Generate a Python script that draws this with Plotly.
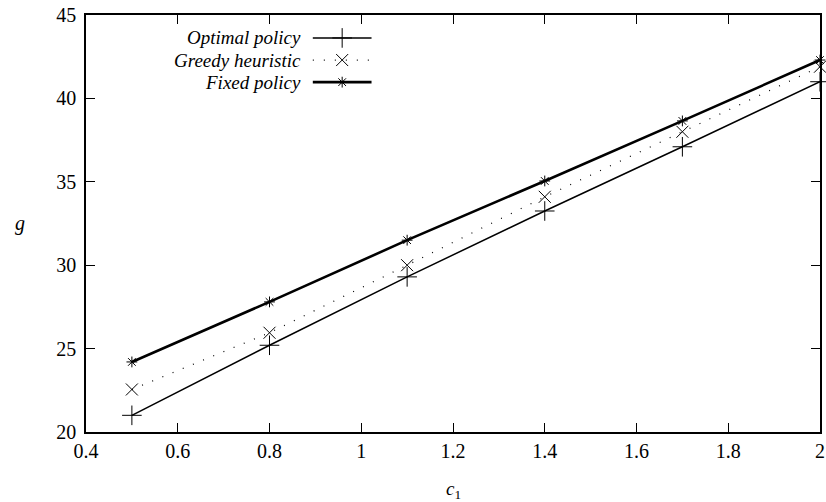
import plotly.graph_objects as go

c1 = [0.5, 0.8, 1.1, 1.4, 1.7, 2.0]
optimal = [21.0, 25.2, 29.3, 33.25, 37.1, 41.0]
greedy = [22.55, 25.95, 30.0, 34.1, 38.0, 41.9]
fixed = [24.2, 27.8, 31.5, 35.05, 38.65, 42.3]
names = ["Optimal policy", "Greedy heuristic", "Fixed policy"]
x_ticks = [0.4, 0.6, 0.8, 1, 1.2, 1.4, 1.6, 1.8, 2]
y_ticks = [20, 25, 30, 35, 40, 45]

FONT = "Liberation Serif, Times New Roman, DejaVu Serif, serif"
styles = [
    dict(line=dict(color="black", width=1.5), symbol="cross-thin-open", size=14),
    dict(line=dict(color="black", width=1.2, dash="1px,10px"), symbol="x-thin-open", size=12),
    dict(line=dict(color="black", width=2.6), symbol="asterisk-open", size=9),
]

fig = go.Figure()
for ys, nm, st in zip([optimal, greedy, fixed], names, styles):
    fig.add_trace(go.Scatter(
        x=c1, y=ys, mode="lines+markers", name=nm, showlegend=False,
        line=st["line"],
        marker=dict(symbol=st["symbol"], size=st["size"], color="black",
                    line=dict(color="black", width=1)),
        cliponaxis=False,
    ))

# manual legend (gnuplot style: text on left, sample on right)
leg_y = [0.945, 0.892, 0.839]
for nm, st, ly in zip(names, styles, leg_y):
    fig.add_trace(go.Scatter(
        x=[0.309, 0.389], y=[ly, ly], mode="lines", xaxis="x2", yaxis="y2",
        line=st["line"], showlegend=False, hoverinfo="skip"))
    fig.add_trace(go.Scatter(
        x=[0.349], y=[ly], mode="markers", xaxis="x2", yaxis="y2",
        marker=dict(symbol=st["symbol"], size=st["size"], color="black",
                    line=dict(color="black", width=1)),
        showlegend=False, hoverinfo="skip"))
    fig.add_annotation(x=0.296, y=ly, xref="x2", yref="y2", text="<i>%s</i>" % nm,
                       showarrow=False, xanchor="right", yanchor="middle",
                       font=dict(family=FONT, size=19, color="black"))

axis_common = dict(
    showline=True, linecolor="black", linewidth=1.5, mirror="allticks",
    ticks="inside", ticklen=9, tickwidth=1, tickcolor="black",
    showgrid=False, zeroline=False, automargin=False,
    ticklabeloverflow="allow",
    tickfont=dict(family=FONT, size=20, color="black"),
)
fig.update_layout(
    width=826, height=502,
    margin=dict(l=86, r=6, t=15, b=70),
    paper_bgcolor="white", plot_bgcolor="white",
    xaxis=dict(range=[0.4, 2], tickvals=x_ticks, ticktext=[str(v) for v in x_ticks],
               **axis_common),
    yaxis=dict(range=[20, 45], tickvals=y_ticks, ticklabelstandoff=4, **axis_common),
    xaxis2=dict(range=[0, 1], overlaying="x", visible=False, fixedrange=True),
    yaxis2=dict(range=[0, 1], overlaying="y", visible=False, fixedrange=True),
    showlegend=False,
)
fig.add_annotation(x=0.5, y=-0.105, xref="paper", yref="paper",
                   text="<i>c</i><sub>1</sub>", showarrow=False,
                   xanchor="center", yanchor="top",
                   font=dict(family=FONT, size=19, color="black"))
fig.add_annotation(x=-0.09, y=0.5, xref="paper", yref="paper",
                   text="<i>g</i>", showarrow=False,
                   xanchor="center", yanchor="middle",
                   font=dict(family=FONT, size=20, color="black"))
fig.write_html("out.html", config={"displayModeBar": False},
               post_script="document.body.style.margin='0';document.body.style.overflow='hidden';")
